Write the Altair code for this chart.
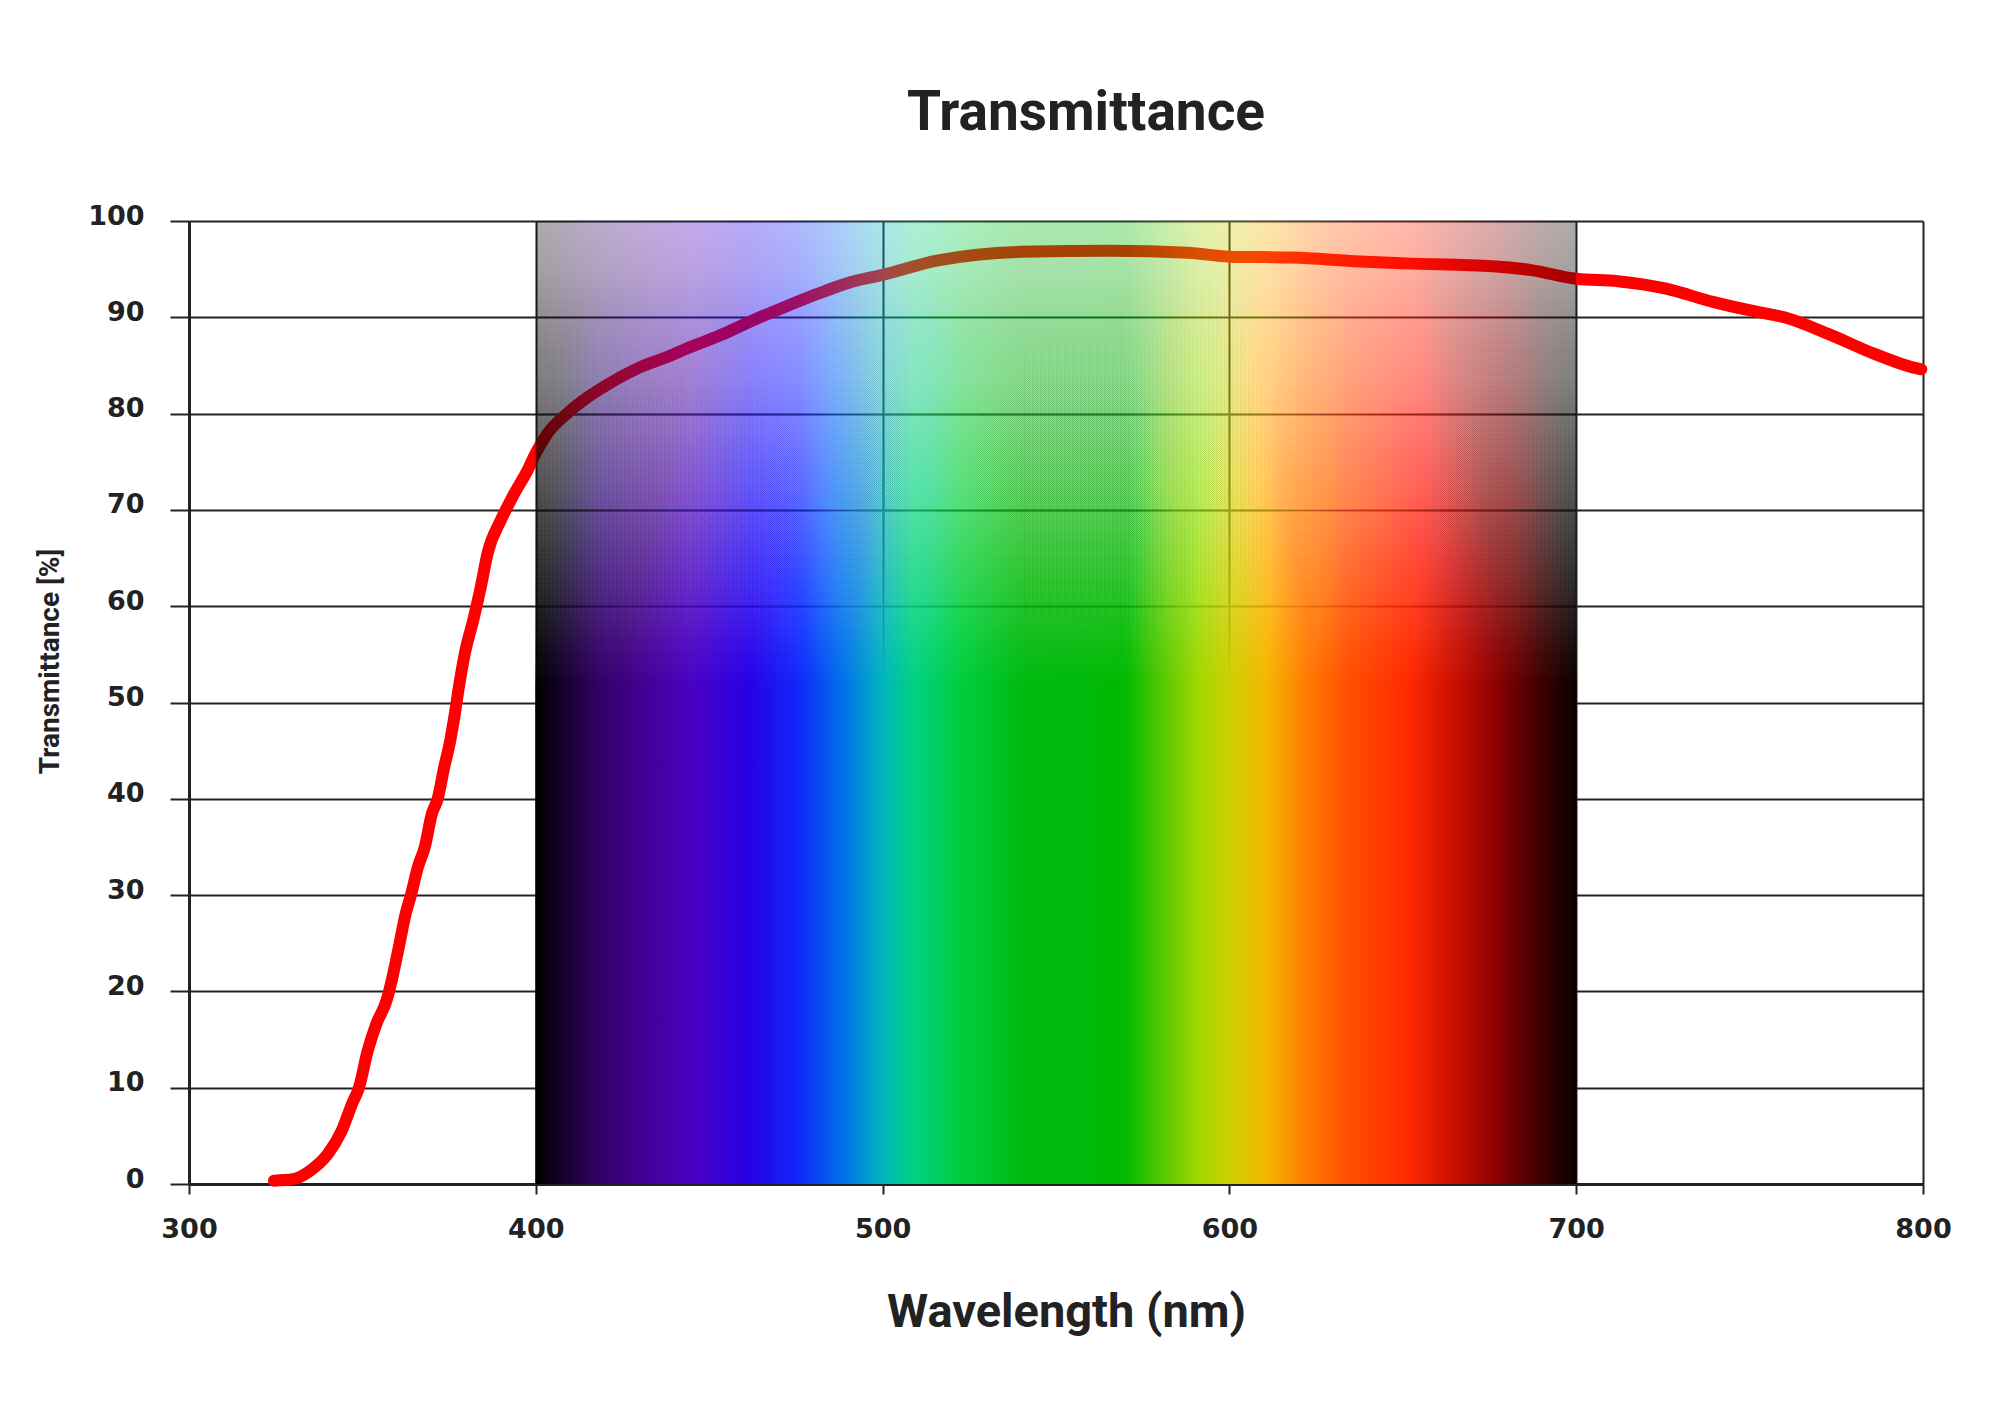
import altair as alt
import numpy as np
import pandas as pd

# ---- data ----
WAVELENGTH = [324.5, 330, 335, 340, 344, 347, 349, 351.5, 354, 357, 358.5, 360.5,
              362.5, 364, 366, 368, 370, 371.7, 373.6, 375.2, 376.5, 378, 379.6,
              382, 384.2, 386.1, 390, 393.8, 397.6, 400, 403.3, 409, 415, 422.5,
              430, 438, 444.5, 453, 462.7, 471.3, 481, 490.4, 500, 516, 540, 566,
              588, 600, 618, 637.5, 651, 676, 687, 700, 712, 725.6, 739.4, 753,
              760, 772.5, 786, 797, 799.5]
TRANSMITTANCE = [0.35, 0.5, 1.4, 3.1, 5.5, 8.3, 10.0, 13.8, 16.6, 19.1, 21.2, 24.6,
                 28.1, 30.0, 32.9, 35.0, 38.4, 40.0, 43.3, 45.8, 48.5, 52.0, 55.2,
                 58.6, 62.1, 65.5, 69.0, 71.7, 74.1, 75.9, 77.9, 80.0, 81.7, 83.4,
                 84.8, 85.9, 86.9, 88.1, 89.7, 91.0, 92.4, 93.6, 94.4, 95.9, 96.8, 96.9,
                 96.7, 96.3, 96.2, 95.8, 95.6, 95.3, 94.9, 94.0, 93.75, 93.0, 91.6, 90.5,
                 90.0, 88.3, 86.2, 84.8, 84.6]

X_TICKS = [300, 400, 500, 600, 700, 800]
Y_TICKS = [0, 10, 20, 30, 40, 50, 60, 70, 80, 90, 100]

# visible-spectrum band (background decoration)
SPECTRUM_START, SPECTRUM_END = 400, 700
SPECTRUM_NM = [400, 418, 429, 445, 461, 476, 488, 500, 509, 523, 541, 558, 570,
               580, 591, 601, 611, 623, 634, 652, 665, 677, 690, 700]
SPECTRUM_COLORS = ["#000000", "#320064", "#41008c", "#4b00c3", "#2800e6", "#0f28fa",
                   "#006eeb", "#00b4be", "#00d282", "#00cd3c", "#00b90f", "#00b90a",
                   "#00b900", "#50c800", "#a0d700", "#d2cd00", "#f5b400", "#ff7800",
                   "#ff5000", "#ff2800", "#c80f00", "#8c0000", "#3c0000", "#0a0000"]
# opacity of the spectrum from top of chart down to where it becomes solid
FADE_LEVEL = [100, 90, 80, 70, 60, 55, 52]
FADE_ALPHA = [0.33, 0.45, 0.58, 0.72, 0.88, 0.96, 1.0]

INK = "#222222"

curve = pd.DataFrame({"nm": WAVELENGTH, "t": TRANSMITTANCE})

# stacked strips that build up the vertical fade of the spectrum
tops = np.arange(FADE_LEVEL[0], FADE_LEVEL[-1], -0.5)
acc = np.interp(tops - 0.25, FADE_LEVEL[::-1], FADE_ALPHA[::-1])
ops, prev = [], 0.0
for a in acc:
    ops.append(1 - (1 - a) / (1 - prev))
    prev = a
strips = pd.DataFrame({
    "x": SPECTRUM_START, "x2": SPECTRUM_END, "lo": 0.0,
    "top": list(tops) + [FADE_LEVEL[-1]],
    "op": ops + [1.0],
})

gradient = alt.Gradient(
    gradient="linear",
    stops=[alt.GradientStop(color=c, offset=(n - SPECTRUM_START) / (SPECTRUM_END - SPECTRUM_START))
           for n, c in zip(SPECTRUM_NM, SPECTRUM_COLORS)],
    x1=0, x2=1, y1=0, y2=0,
)

xscale = alt.Scale(domain=[300, 800], nice=False, zero=False)
yscale = alt.Scale(domain=[0, 100], nice=False, zero=False)

xaxis = alt.Axis(
    values=X_TICKS, grid=True, gridColor=INK, gridWidth=2, gridOpacity=1,
    domainColor=INK, domainWidth=3, tickColor=INK, tickWidth=2, tickSize=10,
    labelFont="DejaVu Sans", labelFontSize=27, labelFontWeight="bold", labelColor=INK,
    labelPadding=22, labelFlush=False,
    title="Wavelength (nm)", titleFont="Roboto", titleFontSize=47,
    titleFontWeight="bold", titleColor=INK, titleX=877, titleY=142,
    titleBaseline="alphabetic", titleAlign="center",
)
yaxis = alt.Axis(
    values=Y_TICKS, grid=True, gridColor=INK, gridWidth=2, gridOpacity=1,
    domainColor=INK, domainWidth=3, tickColor=INK, tickWidth=2, tickSize=19,
    labelFont="DejaVu Sans", labelFontSize=27, labelFontWeight="bold", labelColor=INK,
    labelPadding=26, labelBaseline="alphabetic", labelOffset=3, labelFlush=False,
    title="Transmittance [%]", titleFont="Roboto", titleFontSize=28,
    titleFontWeight="bold", titleColor=INK, titleX=-139, titleY=440,
    titleAngle=-90, titleBaseline="middle", titleAlign="center",
)

line = alt.Chart(curve).mark_line(
    color="#ff0000", strokeWidth=12, strokeCap="round", strokeJoin="round",
    interpolate="monotone",
).encode(
    x=alt.X("nm:Q", scale=xscale, axis=xaxis),
    y=alt.Y("t:Q", scale=yscale, axis=yaxis),
)

spectrum = alt.Chart(strips).mark_rect(color=gradient, strokeWidth=0).encode(
    x=alt.X("x:Q", scale=xscale),
    x2="x2:Q",
    y=alt.Y("lo:Q", scale=yscale),
    y2="top:Q",
    fillOpacity=alt.FillOpacity("op:Q", scale=None),
)

chart = alt.layer(line, spectrum).properties(
    width=1734, height=963,
    title=alt.TitleParams(
        text="Transmittance", font="Roboto", fontSize=55, fontWeight="bold",
        color=INK, anchor="middle", dx=30, offset=17, baseline="alphabetic",
    ),
    autosize=alt.AutoSizeParams(type="none"),
    padding={"left": 181, "top": 213, "right": 60, "bottom": 210},
    background="white",
).configure_view(stroke=None)

chart.save("out.html", embed_options={"renderer": "svg", "actions": False})
